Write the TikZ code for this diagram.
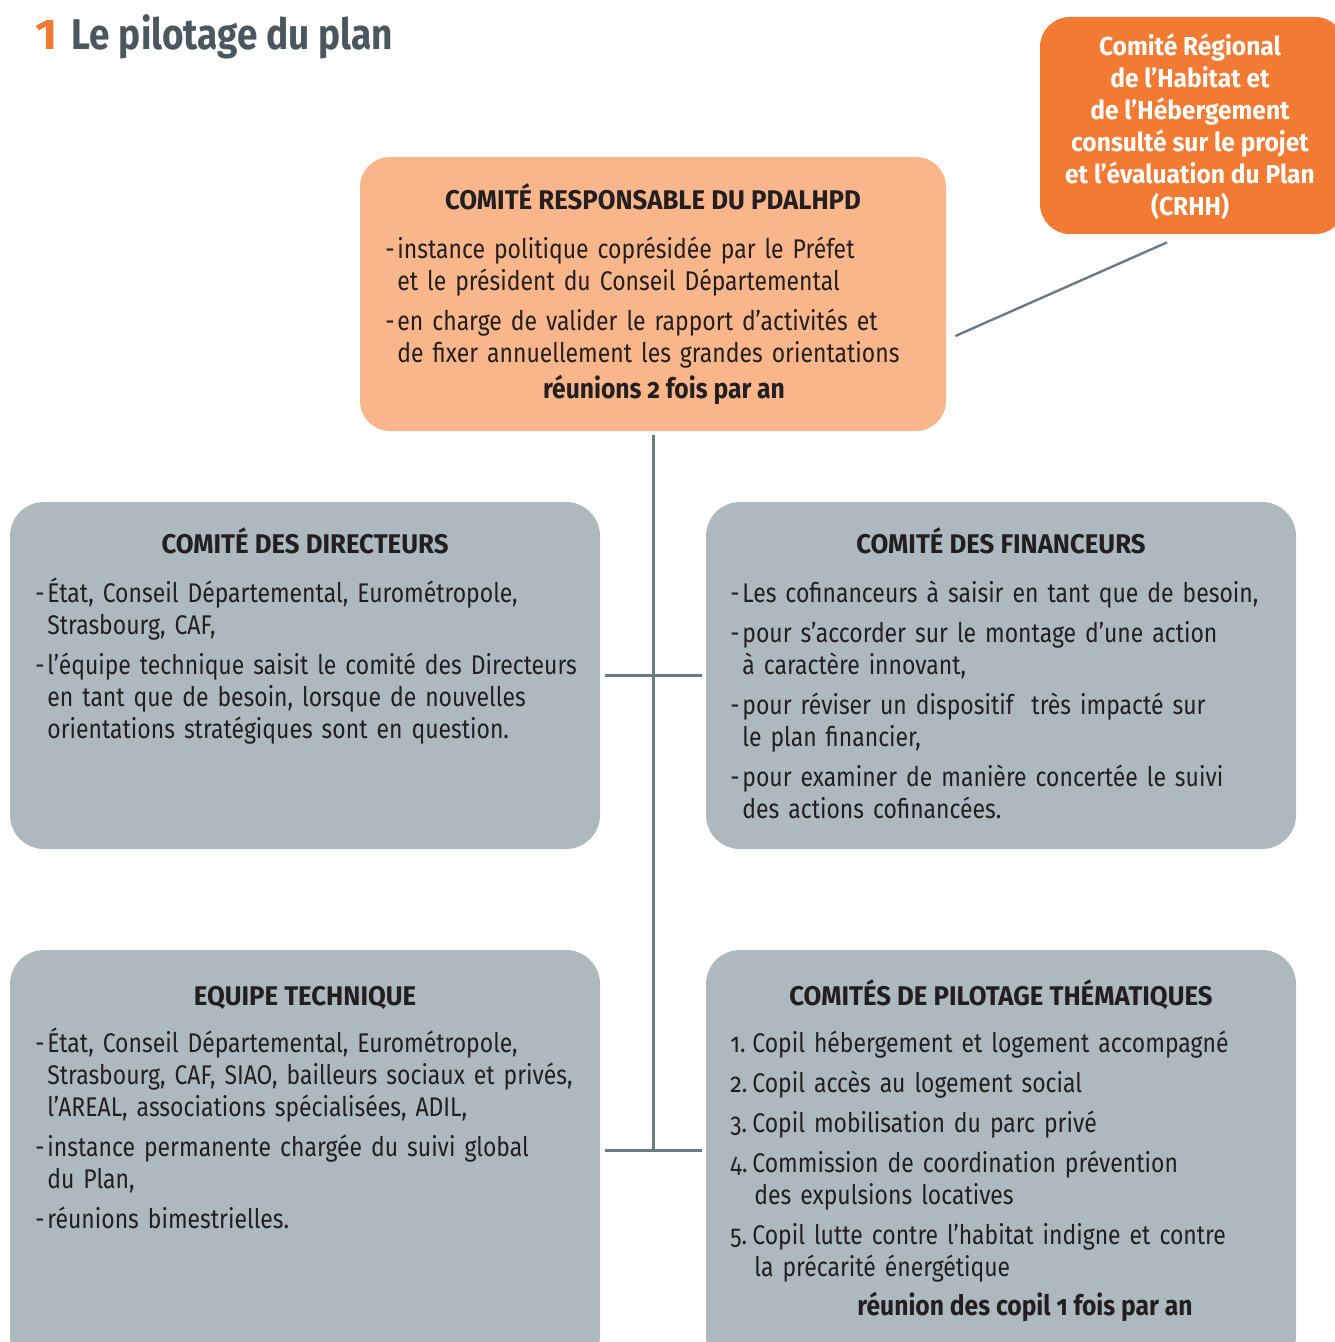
\documentclass[tikz,border=0pt]{standalone}
\usepackage{fontspec}
\setmainfont{Fira Sans}[FakeStretch=0.85,Numbers=OldStyle]
\newfontfamily\headfont{Fira Sans}[FakeStretch=0.955,Numbers=OldStyle]
\newfontfamily\meetfont{Fira Sans}[FakeStretch=0.88,Numbers=OldStyle]
\newfontfamily\crhhfont{Fira Sans}[FakeStretch=0.945]
\newfontfamily\bigfont{Fira Sans}[FakeStretch=0.86]
\usetikzlibrary{positioning}

\definecolor{crorange}{HTML}{F37A33}
\definecolor{lightorange}{HTML}{F9B68B}
\definecolor{boxgray}{HTML}{AEB9BF}
\definecolor{linkgray}{HTML}{6C7A83}
\definecolor{titlegray}{HTML}{4B575E}
\definecolor{inkcol}{HTML}{231F20}

\newcommand{\firstline}{\rule{0pt}{12.5pt}}
\newcommand{\bodyfont}{\fontsize{13.5}{16}\selectfont\setlength{\parskip}{4pt}}
\newcommand{\dashitem}[1]{\par\hangindent=6pt\hangafter=1\noindent\makebox[6pt][l]{\firstline-}#1}
\newcommand{\numitem}[2]{\par\hangindent=12pt\hangafter=1\noindent\makebox[11pt][l]{\firstline#1.}#2}

\tikzset{
  box/.style={fill=boxgray, rounded corners=17pt, inner sep=0pt, minimum width=295pt},
  boxtitle/.style={anchor=base, inner sep=0pt, text=inkcol, font=\headfont\fontsize{13.5}{16}\selectfont\bfseries},
  meet/.style={anchor=base, inner sep=0pt, text=inkcol, font=\meetfont\fontsize{14}{16}\selectfont\bfseries},
  boxbody/.style={anchor=north west, inner sep=0pt, text=inkcol, text width=330pt, align=left, font=\bodyfont},
  link/.style={draw=linkgray, line width=1.5pt}
}

\begin{document}
\begin{tikzpicture}[x=0.5pt,y=-0.5pt]
  \useasboundingbox (0,0) rectangle (1334,1342);

  % title
  \node (title) [anchor=base west, inner sep=0pt, font=\bigfont\fontsize{21.5}{24}\selectfont\bfseries]
    at (35,50) {\textcolor{crorange}{\scalebox{1.3}[1]{1}}\hspace{7pt}\textcolor{titlegray}{Le pilotage du plan}};

  % boxes
  \node (crhh) [fill=crorange, rounded corners=15pt, minimum width=152.5pt, minimum height=108.5pt] at (1192.5,125.5) {};
  \node (main) [fill=lightorange, rounded corners=15pt, minimum width=293pt, minimum height=137pt] at (653,294) {};
  \node (dir) [box, minimum height=173.5pt] at (305,675.5) {};
  \node (fin) [box, minimum height=173.5pt] at (1001,675.5) {};
  \node (equ) [box, minimum height=210pt] at (305,1160) {};
  \node (cop) [box, minimum height=210pt] at (1001,1160) {};

  % CRHH
  \node (crhhtxt) [anchor=north, inner sep=0pt, text=white, align=center, font=\crhhfont\fontsize{13}{16}\selectfont\bfseries] at (1190,30)
    {\firstline Comité Régional\\ de l’Habitat et\\ de l’Hébergement\\ consulté sur le projet\\ et l’évaluation du Plan\\ (CRHH)};

  % comite responsable
  \node (maintitle) [boxtitle] at (653,210) {COMITÉ RESPONSABLE DU PDALHPD};
  \node (mainbody) [boxbody] at (385,218) {%
    \dashitem{instance politique coprésidée par le Préfet\newline et le président du Conseil Départemental}
    \dashitem{en charge de valider le rapport d’activités et\newline de fixer annuellement les grandes orientations}\par};
  \node (mainmeet) [meet] at (664,398) {réunions 2 fois par an};

  % directeurs
  \node (dirtitle) [boxtitle] at (305,553) {COMITÉ DES DIRECTEURS};
  \node (dirbody) [boxbody] at (35,562) {%
    \dashitem{État, Conseil Départemental, Eurométropole,\newline Strasbourg, CAF,}
    \dashitem{l’équipe technique saisit le comité des Directeurs\newline en tant que de besoin, lorsque de nouvelles\newline orientations stratégiques sont en question.}\par};

  % financeurs
  \node (fintitle) [boxtitle] at (1001,553) {COMITÉ DES FINANCEURS};
  \node (finbody) [boxbody] at (730,562) {%
    \dashitem{Les cofinanceurs à saisir en tant que de besoin,}
    \dashitem{pour s’accorder sur le montage d’une action\newline à caractère innovant,}
    \dashitem{pour réviser un dispositif~ très impacté sur\newline le plan financier,}
    \dashitem{pour examiner de manière concertée le suivi\newline des actions cofinancées.}\par};

  % equipe technique
  \node (equtitle) [boxtitle] at (305,1005) {EQUIPE TECHNIQUE};
  \node (equbody) [boxbody] at (35,1012) {%
    \dashitem{État, Conseil Départemental, Eurométropole,\newline Strasbourg, CAF, SIAO, bailleurs sociaux et privés,\newline l’AREAL, associations spécialisées, ADIL,}
    \dashitem{instance permanente chargée du suivi global\newline du Plan,}
    \dashitem{réunions bimestrielles.}\par};

  % copil
  \node (coptitle) [boxtitle] at (1001,1005) {COMITÉS DE PILOTAGE THÉMATIQUES};
  \node (copbody) [boxbody] at (730,1012) {%
    \numitem{1}{Copil hébergement et logement accompagné}
    \numitem{2}{Copil accès au logement social}
    \numitem{3}{Copil mobilisation du parc privé}
    \numitem{4}{Commission de coordination prévention\newline des expulsions locatives}
    \numitem{5}{Copil lutte contre l’habitat indigne et contre\newline la précarité énergétique}\par};
  \node (copmeet) [meet] at (1025,1315) {réunion des copil 1 fois par an};

  % connectors
  \coordinate (ja) at (653,675);
  \coordinate (jb) at (653,1150);
  \draw[link] ([yshift=-2pt]main.south) -- (jb);
  \draw[link] ([xshift=2.5pt]dir.east |- ja) -- ([xshift=-2pt]fin.west |- ja);
  \draw[link] ([xshift=2.5pt]equ.east |- jb) -- ([xshift=-2pt]cop.west |- jb);
  \draw[link, line width=1.2pt] ([shift={(4.5pt,-21pt)}]main.east) -- ([shift={(-12.75pt,-4pt)}]crhh.south);
\end{tikzpicture}
\end{document}
